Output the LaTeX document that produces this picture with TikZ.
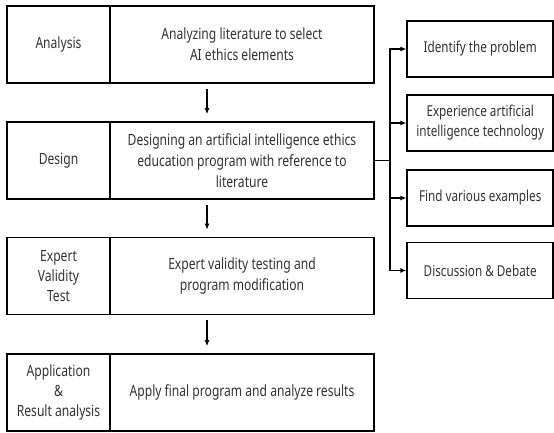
\documentclass[tikz,border=0pt]{standalone}
\usepackage{fontspec}
\setmainfont{Noto Sans}[FakeStretch=0.78]
\usetikzlibrary{arrows.meta,positioning,calc}
\begin{document}
\begin{tikzpicture}[x=1pt, y=-1pt,
      stage/.style={draw, line width=1.6pt, minimum width=103pt, minimum height=77pt, inner sep=2pt, align=center, text=black!80, font=\fontsize{15.5}{20}\selectfont},
      task/.style={draw, line width=1.6pt, minimum width=264pt, minimum height=77pt, align=center, text=black!80, font=\fontsize{15.5}{21}\selectfont},
      activity/.style={draw, line width=1.6pt, minimum width=146pt, minimum height=56pt, inner sep=2pt, align=center, text=black!80, font=\fontsize{15}{20}\selectfont},
      linkstyle/.style={line width=1.6pt},
      arrowstyle/.style={-{Latex[length=6pt,width=5pt]}, line width=1.6pt}
    ]
    \useasboundingbox (0,0) rectangle (554,432);

    \node[stage] (anaStage) at (58.5,44.5) {Analysis};
    \node[stage] (desStage) at (58.5,160.5) {Design};
    \node[stage] (valStage) at (58.5,276) {Expert\\Validity\\Test};
    \node[stage] (appStage) at (58.5,392.5) {Application\\\&\\Result analysis};

    \node[task] (anaTask) at (242,44.5) {Analyzing literature to select\\AI ethics elements};
    \node[task] (desTask) at (242,160.5) {Designing an artificial intelligence ethics\\education program with reference to\\literature};
    \node[task] (valTask) at (242,276) {Expert validity testing and\\program modification};
    \node[task] (appTask) at (242,392.5) {Apply final program and analyze results};

    \node[activity] (identify) at (480.2,49) {Identify the problem};
    \node[activity] (experience) at (480.2,123) {Experience artificial\\intelligence technology};
    \node[activity] (examples) at (480.2,198) {Find various examples};
    \node[activity] (debate) at (480.2,270.5) {Discussion \& Debate};

    \coordinate (trunk) at (390,160.5);

    \draw[arrowstyle] ([xshift=-35pt,yshift=-5pt]anaTask.south) -- ([xshift=-35pt,yshift=7pt]desTask.north);
    \draw[arrowstyle] ([xshift=-35pt,yshift=-5pt]desTask.south) -- ([xshift=-35pt,yshift=7pt]valTask.north);
    \draw[arrowstyle] ([xshift=-35pt,yshift=-5pt]valTask.south) -- ([xshift=-35pt,yshift=7pt]appTask.north);

    \draw[linkstyle] (desTask.east) -- (trunk);
    \draw[arrowstyle] (trunk) |- (identify.west);
    \draw[arrowstyle] (trunk) |- (debate.west);
    \foreach \act in {experience,examples}
      \draw[arrowstyle] (trunk |- \act.west) -- (\act.west);
  \end{tikzpicture}
\end{document}
